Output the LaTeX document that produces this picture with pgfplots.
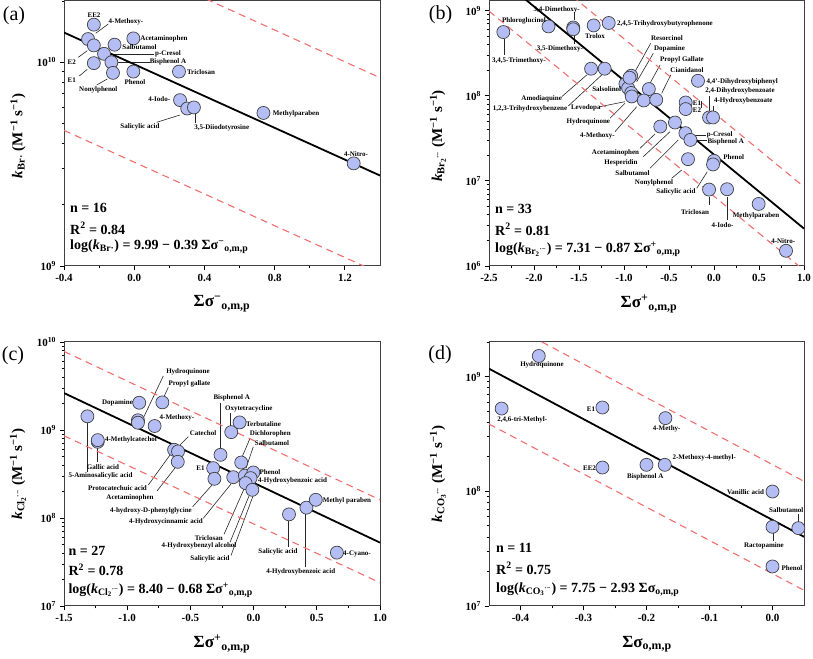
\documentclass[border=0pt]{standalone}
\usepackage{fontspec}
\setmainfont{Liberation Serif}
\usepackage{pgfplots}
\pgfplotsset{compat=1.18}
\definecolor{mk}{RGB}{180,190,245}
\definecolor{bd}{RGB}{240,110,110}
\pgfplotsset{every axis/.append style={scale only axis, clip=true,
  axis line style={black!75, line width=1pt},
  tick align=outside, xtick pos=left, ytick pos=left,
  major tick length=4.5pt, minor tick length=2.5pt,
  tick style={black, line width=0.8pt},
  tick label style={font=\fontsize{11}{12}\selectfont\bfseries, black}}}
\tikzset{fitline/.style={black, line width=1.8pt},
  band/.style={bd, line width=1.1pt, dash pattern=on 7pt off 5pt},
  pts/.style={only marks, mark=*, mark size=6.5pt, mark options={fill=mk, draw=black!75, line width=0.7pt}},
  lab/.style={font=\fontsize{7}{8}\selectfont\bfseries, inner sep=0pt},
  ld/.style={black!85, line width=0.6pt},
  stat/.style={font=\fontsize{14}{16}\selectfont\bfseries, inner sep=0pt, anchor=west},
  axl/.style={font=\fontsize{17}{19}\selectfont\bfseries, inner sep=0pt},
  ayl/.style={font=\fontsize{15}{17}\selectfont\bfseries, inner sep=0pt, rotate=90},
  pl/.style={font=\fontsize{20}{22}\selectfont, inner sep=0pt}}
\begin{document}
\begin{tikzpicture}
\useasboundingbox (0,0) rectangle (813pt,658pt);
% ================= leader lines (below the markers)
\begin{scope}[x=1pt,y=-1pt,shift={(0pt,658pt)}]
% (a)
\draw[ld] (95.7,33.3)--(108.3,24);
\draw[ld] (107,54.8)--(154,54.8);
\draw[ld] (115,62)--(150,62);
\draw[ld] (78.3,57.3)--(87.3,50.7);
\draw[ld] (79.3,76)--(87.3,69.3);
\draw[ld] (96.7,85)--(107.3,79);
\draw[ld] (156.7,122.3)--(180,115);
\draw[ld] (195,112)--(195,123.3);
% (b)
\draw[ld] (574,12)--(574,20);
\draw[ld] (574,36)--(574,44);
\draw[ld] (504.3,39)--(504.3,55);
\draw[ld] (561.7,96.7)--(586.7,75);
\draw[ld] (568.3,106)--(601.7,75);
\draw[ld] (600,106.7)--(625,101.7);
\draw[ld] (610,118.3)--(625,103.3);
\draw[ld] (615,131.7)--(636.7,106.7);
\draw[ld] (640,148.3)--(655,134);
\draw[ld] (643.3,156.7)--(670,131.7);
\draw[ld] (650,168.3)--(678.3,140);
\draw[ld] (671.7,178.3)--(681.7,170);
\draw[ld] (696.7,188.3)--(707.3,171.7);
\draw[ld] (709.3,197)--(709.3,205);
\draw[ld] (727.3,197)--(727.3,220);
\draw[ld] (692,135)--(706,135);
\draw[ld] (697,140.5)--(707,140.5);
\draw[ld] (709.3,96)--(709.3,111);
\draw[ld] (713.3,106)--(713.3,111);
\draw[ld] (701.5,101)--(701.5,108);
\draw[ld] (650.7,43.3)--(635,71.7);
\draw[ld] (653.3,53.3)--(636.7,81.7);
\draw[ld] (660,65)--(650,83.3);
\draw[ld] (670.7,75)--(661.7,93.3);
% (c)
\draw[ld] (163.3,376)--(143.3,418);
\draw[ld] (168.3,387.3)--(163.3,398.3);
\draw[ld] (97.7,447)--(97.7,461.7);
\draw[ld] (87.3,423.5)--(87.3,471.7);
\draw[ld] (188.3,436.7)--(180,445);
\draw[ld] (148.3,485)--(170,455);
\draw[ld] (157,491)--(175,468);
\draw[ld] (192.7,506.7)--(212,485);
\draw[ld] (203.3,518.3)--(231,484);
\draw[ld] (224,534.3)--(244,489);
\draw[ld] (230,542.3)--(249,496);
\draw[ld] (231,555.5)--(253,496);
\draw[ld] (288.3,521.5)--(288.3,547);
\draw[ld] (305.7,514)--(305.7,566.7);
\draw[ld] (220,402.7)--(220,448);
\draw[ld] (230.7,413.3)--(230.7,426);
\draw[ld] (250,438.3)--(242.3,456.5);
\draw[ld] (253.3,446.7)--(246,468.3);
% (d)
\draw[ld] (798.3,514)--(798.3,521.7);
\draw[ld] (773.3,533.3)--(773.3,540.7);
\end{scope}

% ================= (a)
\begin{axis}[ymode=log, at={(64pt,392pt)}, anchor=south west, width=316pt, height=265pt,
  xmin=-0.4, xmax=1.4, ymin=1e9, ymax=2e10,
  xtick={-0.4,0,0.4,0.8,1.2}, xticklabels={-0.4,0.0,0.4,0.8,1.2},
  minor xtick={-0.2,0.2,0.6,1.0},
  ytick={1e9,1e10}, yticklabels={10\textsuperscript{9},10\textsuperscript{10}},
  minor ytick={2e9,3e9,4e9,5e9,6e9,7e9,8e9,9e9,2e10}]
\addplot[band] coordinates {(-0.4,4.23e10) (1.4,8.4e9)};
\addplot[band] coordinates {(-0.4,4.63e9) (1.4,9.2e8)};
\addplot[fitline] coordinates {(-0.4,1.40e10) (1.4,2.78e9)};
\addplot[pts] coordinates {
(-0.263,1.30e10) (-0.23,1.21e10) (-0.172,1.10e10) (-0.13,1.00e10) (-0.23,9.9e9)
(-0.121,8.87e9) (-0.112,1.22e10) (-0.005,1.31e10) (-0.005,9.0e9) (0.255,9.0e9)
(0.261,6.52e9) (0.302,5.93e9) (0.34,6.0e9) (-0.23,1.53e10) (0.736,5.64e9) (1.25,3.19e9)};
\end{axis}

% ================= (b)
\begin{axis}[ymode=log, at={(489pt,392pt)}, anchor=south west, width=315pt, height=265pt,
  xmin=-2.5, xmax=1.0, ymin=1e6, ymax=1.3e9,
  xtick={-2.5,-2,-1.5,-1,-0.5,0,0.5,1}, xticklabels={-2.5,-2.0,-1.5,-1.0,-0.5,0.0,0.5,1.0},
  minor xtick={-2.25,-1.75,-1.25,-0.75,-0.25,0.25,0.75},
  ytick={1e6,1e7,1e8,1e9}, yticklabels={10\textsuperscript{6},10\textsuperscript{7},10\textsuperscript{8},10\textsuperscript{9}},
  minor ytick={2e6,3e6,4e6,5e6,6e6,7e6,8e6,9e6,2e7,3e7,4e7,5e7,6e7,7e7,8e7,9e7,2e8,3e8,4e8,5e8,6e8,7e8,8e8,9e8}]
\addplot[band] coordinates {(-2.5,9.44e9) (1.0,8.51e6)};
\addplot[band] coordinates {(-2.5,9.89e8) (1.0,8.91e5)};
\addplot[fitline] coordinates {(-2.5,3.05e9) (1.0,2.75e6)};
\addplot[pts] coordinates {
(-2.341,5.61e8) (-1.839,6.53e8) (-1.564,6.35e8) (-1.564,6.05e8) (-1.337,6.71e8) (-1.170,7.17e8)
(-1.366,2.08e8) (-1.215,2.08e8) (-0.920,1.72e8) (-0.984,1.38e8) (-0.954,1.23e8) (-0.939,1.63e8)
(-0.920,1.08e8) (-0.914,9.82e7) (-0.724,1.20e8) (-0.780,8.81e7) (-0.642,8.97e7)
(-0.178,1.50e8) (-0.315,8.34e7) (-0.315,6.98e7) (-0.055,5.56e7) (-0.011,5.56e7)
(-0.434,4.85e7) (-0.597,4.35e7) (-0.318,3.64e7) (-0.262,3.03e7) (-0.289,1.80e7)
(0.0,1.72e7) (-0.011,1.56e7) (-0.055,7.91e6) (0.145,7.98e6) (0.496,5.36e6) (0.80,1.51e6)};
\end{axis}

% ================= (c)
\begin{axis}[ymode=log, at={(64pt,52pt)}, anchor=south west, width=316pt, height=264pt,
  xmin=-1.5, xmax=1.0, ymin=1e7, ymax=1e10,
  xtick={-1.5,-1,-0.5,0,0.5,1}, xticklabels={-1.5,-1.0,-0.5,0.0,0.5,1.0},
  minor xtick={-1.25,-0.75,-0.25,0.25,0.75},
  ytick={1e7,1e8,1e9,1e10}, yticklabels={10\textsuperscript{7},10\textsuperscript{8},10\textsuperscript{9},10\textsuperscript{10}},
  minor ytick={2e7,3e7,4e7,5e7,6e7,7e7,8e7,9e7,2e8,3e8,4e8,5e8,6e8,7e8,8e8,9e8,2e9,3e9,4e9,5e9,6e9,7e9,8e9,9e9}]
\addplot[band] coordinates {(-1.5,7.82e9) (1.0,1.61e8)};
\addplot[band] coordinates {(-1.5,8.59e8) (1.0,1.84e7)};
\addplot[fitline] coordinates {(-1.5,2.63e9) (1.0,5.25e7)};
\addplot[pts] coordinates {
(-0.905,2.04e9) (-0.722,2.06e9) (-1.315,1.43e9) (-0.915,1.29e9) (-0.915,1.21e9) (-0.783,1.11e9)
(-1.233,7.34e8) (-1.233,7.67e8) (-0.629,5.96e8) (-0.598,5.70e8) (-0.600,4.35e8)
(-0.262,5.22e8) (-0.177,9.46e8) (-0.111,1.22e9) (-0.320,3.69e8) (-0.310,2.79e8)
(-0.098,4.27e8) (-0.161,2.91e8) (-0.069,3.03e8) (-0.002,3.29e8) (-0.024,2.84e8)
(-0.063,2.49e8) (-0.010,2.09e8) (0.280,1.10e8) (0.418,1.31e8) (0.492,1.61e8) (0.659,4.04e7)};
\end{axis}

% ================= (d)
\begin{axis}[ymode=log, at={(489pt,52pt)}, anchor=south west, width=315pt, height=264pt,
  xmin=-0.45, xmax=0.05, ymin=1e7, ymax=2e9,
  xtick={-0.4,-0.3,-0.2,-0.1,0}, xticklabels={-0.4,-0.3,-0.2,-0.1,0.0},
  minor xtick={-0.35,-0.25,-0.15,-0.05},
  ytick={1e7,1e8,1e9}, yticklabels={10\textsuperscript{7},10\textsuperscript{8},10\textsuperscript{9}},
  minor ytick={2e7,3e7,4e7,5e7,6e7,7e7,8e7,9e7,2e8,3e8,4e8,5e8,6e8,7e8,8e8,9e8,2e9}]
\addplot[band] coordinates {(-0.45,3.52e9) (0.05,1.22e8)};
\addplot[band] coordinates {(-0.45,3.85e8) (0.05,1.37e7)};
\addplot[fitline] coordinates {(-0.45,1.17e9) (0.05,4.01e7)};
\addplot[pts] coordinates {
(-0.371,1.51e9) (-0.430,5.26e8) (-0.270,5.37e8) (-0.270,1.61e8) (-0.170,4.34e8)
(-0.200,1.70e8) (-0.171,1.70e8) (0.0,9.94e7) (0.0,4.90e7) (0.041,4.77e7) (0.0,2.21e7)};
\end{axis}

% ================= text (above the markers)
\begin{scope}[x=1pt,y=-1pt,shift={(0pt,658pt)}]
% (a)
\node[pl] at (14,16) {(a)};
\node[lab] at (94,15) {EE2};
\node[lab] at (126,22.3) {4-Methoxy-};
\node[lab] at (164,39) {Acetaminophen};
\node[lab] at (139.5,46.7) {Salbutamol};
\node[lab] at (168,54.3) {p-Cresol};
\node[lab] at (168,62.3) {Bisphenol A};
\node[lab] at (71.7,62.3) {E2};
\node[lab] at (71.7,80) {E1};
\node[lab] at (98.3,90) {Nonylphenol};
\node[lab] at (135,81.7) {Phenol};
\node[lab] at (201,72.3) {Triclosan};
\node[lab] at (159.3,99.3) {4-Iodo-};
\node[lab] at (140,126.7) {Salicylic acid};
\node[lab] at (221.7,128.3) {3,5-Diiodotyrosine};
\node[lab] at (296,114) {Methylparaben};
\node[lab] at (356,154.3) {4-Nitro-};
\node[stat] at (70,208.3) {n = 16};
\node[stat] at (70,228.3) {R\textsuperscript{2} = 0.84};
\node[stat] at (70,246.7) {log(\textit{k}\textsubscript{Br·}) = 9.99 − 0.39 Σσ\textsuperscript{−}\textsubscript{o,m,p}};
\node[axl] at (222,304) {Σσ\textsuperscript{−}\textsubscript{o,m,p}};
\node[ayl] at (18,136) {\textit{k}\textsubscript{Br·} (M\textsuperscript{−1} s\textsuperscript{−1})};
% (b)
\node[pl] at (440.5,15) {(b)};
\node[lab] at (556.7,9.5) {3,4-Dimethoxy-};
\node[lab] at (524,20.7) {Phloroglucinol};
\node[lab] at (595,35.7) {Trolox};
\node[lab] at (560,49.3) {3,5-Dimethoxy-};
\node[lab] at (519,61) {3,4,5-Trimethoxy-};
\node[lab] at (541.7,99.3) {Amodiaquine};
\node[lab] at (530,109) {1,2,3-Trihydroxybenzene};
\node[lab] at (606.7,89.3) {Salsolinol};
\node[lab] at (585.8,108.3) {Levodopa};
\node[lab] at (588.3,122.3) {Hydroquinone};
\node[lab] at (597.5,136) {4-Methoxy-};
\node[lab] at (615.5,152.7) {Acetaminophen};
\node[lab] at (621,162.7) {Hesperidin};
\node[lab] at (632.5,172.7) {Salbutamol};
\node[lab] at (654,182.7) {Nonylphenol};
\node[lab] at (676,192.3) {Salicylic acid};
\node[lab] at (695,211.7) {Triclosan};
\node[lab] at (722.5,225) {4-Iodo-};
\node[lab] at (756,216) {Methylparaben};
\node[lab] at (783.3,240.7) {4-Nitro-};
\node[lab] at (733.7,156.7) {Phenol};
\node[lab] at (719.7,135) {p-Cresol};
\node[lab] at (725.7,141.7) {Bisphenol A};
\node[lab] at (697,103.5) {E1};
\node[lab] at (697,110.5) {E2};
\node[lab] at (740,91) {2,4-Dihydroxybenzoate};
\node[lab] at (743.3,100.7) {4-Hydroxybenzoate};
\node[lab] at (742.2,81.7) {4,4'-Dihydroxybiphenyl};
\node[lab] at (665,24) {2,4,5-Trihydroxybutyrophenone};
\node[lab] at (667,38.3) {Resorcinol};
\node[lab] at (669.5,49) {Dopamine};
\node[lab] at (682,60) {Propyl Gallate};
\node[lab] at (687,70.3) {Cianidanol};
\node[stat] at (495,209.3) {n = 33};
\node[stat] at (495,229.3) {R\textsuperscript{2} = 0.81};
\node[stat] at (495,249.3) {log(\textit{k}\textsubscript{Br\textsubscript{2}\textsuperscript{·−}}) = 7.31 − 0.87 Σσ\textsuperscript{+}\textsubscript{o,m,p}};
\node[axl] at (649,304) {Σσ\textsuperscript{+}\textsubscript{o,m,p}};
\node[ayl] at (438,136) {\textit{k}\textsubscript{Br\textsubscript{2}\textsuperscript{·−}} (M\textsuperscript{−1} s\textsuperscript{−1})};
% (c)
\node[pl] at (13,356) {(c)};
\node[lab] at (188,371.7) {Hydroquinone};
\node[lab] at (189.5,384.3) {Propyl gallate};
\node[lab] at (117.5,403) {Dopamine};
\node[lab] at (177,418.3) {4-Methoxy-};
\node[lab] at (131,440) {4-Methylcatechol};
\node[lab] at (103,466.7) {Gallic acid};
\node[lab] at (100.5,475.7) {5-Aminosalicylic acid};
\node[lab] at (203,433.3) {Catechol};
\node[lab] at (117.5,488.3) {Protocatechuic acid};
\node[lab] at (130,498.3) {Acetaminophen};
\node[lab] at (151,510.7) {4-hydroxy-D-phenylglycine};
\node[lab] at (166,521.7) {4-Hydroxycinnamic acid};
\node[lab] at (208.7,537.7) {Triclosan};
\node[lab] at (199,545.7) {4-Hydroxybenzyl alcohol};
\node[lab] at (210,559) {Salicylic acid};
\node[lab] at (278,552.3) {Salicylic acid};
\node[lab] at (300.7,571.7) {4-Hydroxybenzoic acid};
\node[lab] at (347,500.7) {Methyl paraben};
\node[lab] at (357,554) {4-Cyano-};
\node[lab] at (231.7,398.3) {Bisphenol A};
\node[lab] at (248.8,409) {Oxytetracycline};
\node[lab] at (263.5,423.7) {Terbutaline};
\node[lab] at (270.3,433.7) {Dichlorophen};
\node[lab] at (272,443.3) {Salbutamol};
\node[lab] at (200.5,468.5) {E1};
\node[lab] at (270,471.7) {Phenol};
\node[lab] at (292.5,480.7) {4-Hydroxybenzoic acid};
\node[stat] at (68.3,551) {n = 27};
\node[stat] at (68.3,570) {R\textsuperscript{2} = 0.78};
\node[stat] at (68.3,590) {log(\textit{k}\textsubscript{Cl\textsubscript{2}\textsuperscript{·−}}) = 8.40 − 0.68 Σσ\textsuperscript{+}\textsubscript{o,m,p}};
\node[axl] at (222,644) {Σσ\textsuperscript{+}\textsubscript{o,m,p}};
\node[ayl] at (18,474) {\textit{k}\textsubscript{Cl\textsubscript{2}\textsuperscript{·−}} (M\textsuperscript{−1} s\textsuperscript{−1})};
% (d)
\node[pl] at (440,355) {(d)};
\node[lab] at (542,365) {Hydroquinone};
\node[lab] at (522.3,420) {2,4,6-tri-Methyl-};
\node[lab] at (591,408.7) {E1};
\node[lab] at (589.5,467.7) {EE2};
\node[lab] at (666.7,429.3) {4-Methy-};
\node[lab] at (704.3,458.3) {2-Methoxy-4-methyl-};
\node[lab] at (645.3,476.7) {Bisphenol A};
\node[lab] at (745.5,491.7) {Vanillic acid};
\node[lab] at (786.3,510) {Salbutamol};
\node[lab] at (764,545.7) {Ractopamine};
\node[lab] at (792,567.7) {Phenol};
\node[stat] at (496,548.3) {n = 11};
\node[stat] at (496,568.3) {R\textsuperscript{2} = 0.75};
\node[stat] at (496,589.3) {log(\textit{k}\textsubscript{CO\textsubscript{3}\textsuperscript{·−}}) = 7.75 − 2.93 Σσ\textsubscript{o,m,p}};
\node[axl] at (647,644) {Σσ\textsubscript{o,m,p}};
\node[ayl] at (438,474) {\textit{k}\textsubscript{CO\textsubscript{3}\textsuperscript{·−}} (M\textsuperscript{−1} s\textsuperscript{−1})};
\end{scope}
\end{tikzpicture}
\end{document}
